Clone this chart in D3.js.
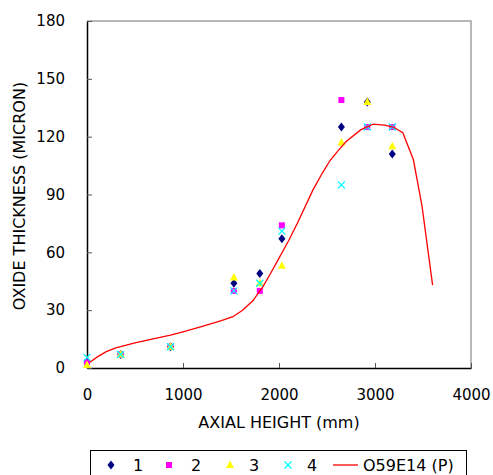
<!DOCTYPE html>
<html>
<head>
<meta charset="utf-8">
<script src="https://cdn.jsdelivr.net/npm/d3@7"></script>
<style>
  body { margin: 0; background: #fff; }
  svg { font-family: "DejaVu Sans", Verdana, sans-serif; }
</style>
</head>
<body>
<svg width="493" height="475"></svg>
<script>
// measured points
var axialHeight = [0, 350, 870, 1530, 1800, 2030, 2650, 2920, 3180];
var series1 = [3, 7, 11, 44, 49, 67, 125, 138, 111];
var series2 = [3, 7, 11, 40, 40, 74, 139, 125, 125];
var series3 = [1.5, 7, 11, 47, 44, 53, 117, 138, 115];
var series4 = [5.5, 7, 11, 40, 44, 71, 95, 125, 125];

// prediction O59E14 (P)
var predX = [30, 100, 200, 300, 500, 700, 870, 1000, 1200, 1400, 1520, 1620, 1730, 1800, 1830, 1900,
             2000, 2100, 2200, 2350, 2450, 2530, 2620, 2700, 2850, 2980, 3100, 3190, 3290, 3400, 3490, 3600];
var predY = [3, 5.5, 8.5, 10.4, 13, 15.2, 17, 18.8, 21.6, 24.6, 26.6, 30, 35, 40, 42, 48,
             57, 66, 76, 92, 101, 107.5, 113, 117.5, 123.5, 126.5, 126, 125, 122, 108, 84, 43];

var xTicks = [0, 1000, 2000, 3000, 4000];
var yTicks = [0, 30, 60, 90, 120, 150, 180];
var seriesNames = ["1", "2", "3", "4", "O59E14 (P)"];

var svg = d3.select("svg");

var x = d3.scaleLinear().domain([0, 4000]).range([87, 471]);
var y = d3.scaleLinear().domain([0, 180]).range([368, 21]);

// plot frame (top / right in gray)
svg.append("path")
    .attr("d", "M" + x(0) + "," + y(180) + "H" + x(4000) + "V" + y(0))
    .style("fill", "none")
    .style("stroke", "#a0a0a0")
    .style("stroke-width", "1.5px");

var xAxis = svg.append("g")
    .attr("transform", "translate(0," + y(0) + ")")
    .call(d3.axisBottom(x).tickValues(xTicks).tickFormat(d3.format("d"))
        .tickSizeInner(-5).tickSizeOuter(0).tickPadding(21));

var yAxis = svg.append("g")
    .attr("transform", "translate(" + x(0) + ",0)")
    .call(d3.axisLeft(y).tickValues(yTicks).tickSizeInner(-5).tickSizeOuter(0).tickPadding(22));

[xAxis, yAxis].forEach(function(a) {
  a.select(".domain").style("stroke", "#000").style("stroke-width", "1.5px");
  a.selectAll(".tick line").style("stroke", "#555");
  a.selectAll(".tick text").style("font-size", "15px").style("fill", "#000")
      .style("font-family", "'DejaVu Sans', Verdana, sans-serif");
});

svg.append("text")
    .attr("x", 279).attr("y", 428)
    .style("text-anchor", "middle").style("font-size", "16px")
    .text("AXIAL HEIGHT (mm)");

svg.append("text")
    .attr("transform", "translate(25,196) rotate(-90)")
    .style("text-anchor", "middle").style("font-size", "16px")
    .text("OXIDE THICKNESS (MICRON)");

// marker shapes
function markerPath(kind) {
  if (kind === 0) return "M0,-4.5L3.5,0L0,4.5L-3.5,0Z";
  if (kind === 1) return "M-3,-3H3V3H-3Z";
  if (kind === 2) return "M0,-4.5L4,3L-4,3Z";
  return "M-3.5,-3.5L3.5,3.5M-3.5,3.5L3.5,-3.5";
}
var markerColors = ["#000080", "#ff00ff", "#ffff00", "#00ffff"];

function drawMarker(g, kind, px, py) {
  var p = g.append("path")
      .attr("d", markerPath(kind))
      .attr("transform", "translate(" + px + "," + py + ")");
  if (kind === 3) {
    p.style("fill", "none").style("stroke", markerColors[3]).style("stroke-width", "1.3px");
  } else {
    p.style("fill", markerColors[kind]);
  }
}

var allSeries = [series1, series2, series3, series4];
var marks = svg.append("g");
allSeries.forEach(function(s, i) {
  s.forEach(function(v, j) {
    drawMarker(marks, i, x(axialHeight[j]), y(v));
  });
});

var line = d3.line()
    .x(function(d) { return x(d[0]); })
    .y(function(d) { return y(d[1]); });

svg.append("path")
    .datum(predX.map(function(v, i) { return [v, predY[i]]; }))
    .attr("d", line)
    .style("fill", "none")
    .style("stroke", "#ff0000")
    .style("stroke-width", "1.3px");

// legend
var legend = svg.append("g");
legend.append("rect")
    .attr("x", 90.5).attr("y", 450.5).attr("width", 376).attr("height", 40)
    .style("fill", "#fff").style("stroke", "#000").style("stroke-width", "1px");

var legendMarkX = [111, 169, 230, 288];
var legendTextX = [133, 191, 249, 307];
for (var i = 0; i < 4; i++) {
  drawMarker(legend, i, legendMarkX[i], 465);
  legend.append("text")
      .attr("x", legendTextX[i]).attr("y", 471)
      .style("font-size", "16px")
      .text(seriesNames[i]);
}
legend.append("line")
    .attr("x1", 333).attr("x2", 358).attr("y1", 465).attr("y2", 465)
    .style("stroke", "#ff0000").style("stroke-width", "1.3px");
legend.append("text")
    .attr("x", 363).attr("y", 471)
    .style("font-size", "16px")
    .text(seriesNames[4]);
</script>
</body>
</html>
